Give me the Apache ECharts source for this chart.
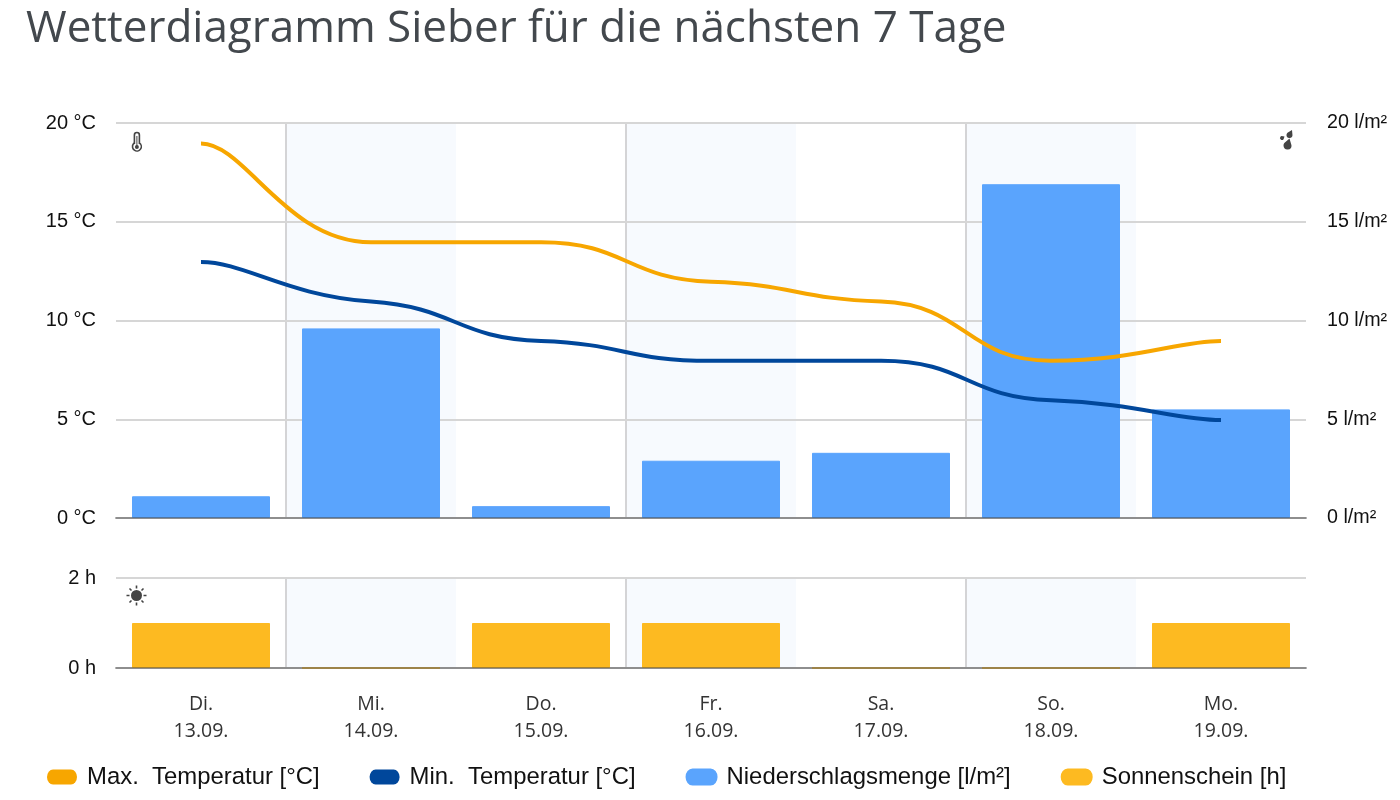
<!DOCTYPE html>
<html><head><meta charset="utf-8">
<style>html,body{margin:0;padding:0;background:#fff}#c{width:1400px;height:800px}</style>
<script src="https://cdn.jsdelivr.net/npm/echarts@6/dist/echarts.min.js"></script></head>
<body><div id="c"></div>
<script>
const days = ['Di.','Mi.','Do.','Fr.','Sa.','So.','Mo.'];
const dates = ['13.09.','14.09.','15.09.','16.09.','17.09.','18.09.','19.09.'];
const maxTemp = [19,14,14,12,11,8,9];
const minTemp = [13,11,9,8,8,6,5];
const rain = [1.1,9.6,0.6,2.9,3.3,16.9,5.5];
const sun = [1,0,1,1,0,0,1];
const names = ['Max.  Temperatur [°C]','Min.  Temperatur [°C]','Niederschlagsmenge [l/m²]','Sonnenschein [h]'];
const cats = days.map((d,i)=>d+'\n'+dates[i]);
const colors = {max:'#F7A600',min:'#00479B',rain:'#5AA4FD',sun:'#FDBA21'};
const sans = '"Liberation Sans"';
const iconInk = '#444444';
const drop = (ctx,cx,cy,r,tx,ty)=>{const a=Math.atan2(ty-cy,tx-cx);ctx.moveTo(tx,ty);ctx.arc(cx,cy,r,a+1.2,a-1.2+Math.PI*2);ctx.closePath();};
echarts.graphic.registerShape('iconThermo',echarts.graphic.extendShape({
  shape:{},buildPath(ctx){ctx.moveTo(3,11);ctx.lineTo(3,3);ctx.arc(5.5,3,2.5,Math.PI,0);ctx.lineTo(8,11);ctx.arc(5.5,14.6,4.4,-0.96,Math.PI+0.96);ctx.closePath();}
}));
echarts.graphic.registerShape('iconDrops',echarts.graphic.extendShape({
  shape:{},buildPath(ctx){drop(ctx,10,5,3,12.5,0);drop(ctx,2.5,8,2,5,6.5);drop(ctx,8,15.5,4,10,8.5);}
}));
echarts.graphic.registerShape('iconRays',echarts.graphic.extendShape({
  shape:{},buildPath(ctx){
    [[10,0,10,3],[10,17,10,20],[0,10,3,10],[17,10,20,10],[3,3,5,5],[15,15,17,17],[17,3,15,5],[5,15,3,17]].forEach(s=>{ctx.moveTo(s[0],s[1]);ctx.lineTo(s[2],s[3]);});
  }
}));
// Curve through the data points: flat ends with a short handle, damped tangents inside.
echarts.graphic.registerShape('tempCurve',echarts.graphic.extendShape({
  shape:{pts:[],slopes:[]},
  buildPath(ctx,shape){
    const p=shape.pts,m=shape.slopes,n=p.length;
    ctx.moveTo(p[0][0],p[0][1]);
    for(let i=0;i<n-1;i++){
      const dx=p[i+1][0]-p[i][0];
      const h0=i===0?0.26:0.5, h1=i===n-2?0.26:0.5;
      ctx.bezierCurveTo(p[i][0]+h0*dx,p[i][1]+m[i]*h0*dx,p[i+1][0]-h1*dx,p[i+1][1]-m[i+1]*h1*dx,p[i+1][0],p[i+1][1]);
    }
  }
}));
const tempSeries = (name,vals,color)=>({
  name,type:'custom',xAxisIndex:0,yAxisIndex:0,z:6,silent:true,
  data:vals.map((v,i)=>[i,v]),encode:{x:0,y:1},itemStyle:{color},
  renderItem(params,api){
    if(params.dataIndex!==0) return null;
    const pts=vals.map((v,i)=>api.coord([i,v]));
    const slopes=pts.map((q,i)=>{
      if(i===0||i===pts.length-1) return 0;
      const s0=(q[1]-pts[i-1][1])/(q[0]-pts[i-1][0]), s1=(pts[i+1][1]-q[1])/(pts[i+1][0]-q[0]);
      if(s0*s1<=0) return 0;
      return Math.sign(s0)*Math.min(Math.abs(s0),Math.abs(s1))*0.3;
    });
    return {type:'tempCurve',y:0.8,shape:{pts,slopes},style:{fill:'none',stroke:color,lineWidth:4}};
  }
});
const chart = echarts.init(document.getElementById('c'),null,{renderer:'canvas'});
const back = {
  type:'category',data:cats,boundaryGap:true,z:0,
  axisLine:{show:false},axisTick:{show:false},axisLabel:{show:false},
  splitArea:{show:true,areaStyle:{color:['rgba(255,255,255,0)','#F7FAFE']}},
  splitLine:{show:true,showMinLine:false,showMaxLine:false,lineStyle:{width:2,color:['#D4D4D6','rgba(0,0,0,0)']}}
};
const front = (label)=>({
  type:'category',data:cats,boundaryGap:true,z:5,position:'bottom',
  axisLine:{show:true,onZero:false,lineStyle:{color:'rgba(70,70,70,0.5)',width:2}},
  axisTick:{show:false},splitLine:{show:false},splitArea:{show:false},
  axisLabel:label?{show:true,margin:23,fontFamily:'"Open Sans"',fontSize:19.5,color:'#333',lineHeight:27,interval:0}:{show:false}
});
const yBase = {type:'value',z:1,axisLine:{show:false},axisTick:{show:false},
  splitLine:{lineStyle:{color:'#D6D6D6',width:2}},
  axisLabel:{fontFamily:sans,fontSize:20,color:'#111',margin:20,padding:[4,0,0,0]}};
chart.setOption({
  animation:false,
  title:{text:'Wetterdiagramm Sieber für die nächsten 7 Tage',left:21,top:2,
    textStyle:{fontFamily:'"Open Sans"',fontSize:44,fontWeight:'normal',color:'#43484D'}},
  legend:{left:42,top:760,itemWidth:30,itemHeight:15,itemGap:50,
    icon:'path://M6,0H24A6,7.5 0 0 1 24,15H6A6,7.5 0 0 1 6,0Z',
    data:names,selectedMode:false,
    textStyle:{fontFamily:sans,fontSize:23.9,color:'#111',padding:[0,0,0,5]}},
  grid:[{left:116,right:94,top:123,height:395},{left:116,right:94,top:578,height:90}],
  xAxis:[Object.assign({gridIndex:0},back),Object.assign({gridIndex:0},front(false)),
         Object.assign({gridIndex:1},back),Object.assign({gridIndex:1},front(true))],
  yAxis:[
    Object.assign({},yBase,{gridIndex:0,min:0,max:20,interval:5,axisLabel:Object.assign({},yBase.axisLabel,{formatter:'{value} °C'})}),
    Object.assign({},yBase,{gridIndex:0,min:0,max:20,interval:5,position:'right',splitLine:{show:false},axisLabel:Object.assign({},yBase.axisLabel,{margin:21,fontSize:19.7,formatter:'{value} l/m²'})}),
    Object.assign({},yBase,{gridIndex:1,min:0,max:2,interval:2,axisLabel:Object.assign({},yBase.axisLabel,{formatter:'{value} h'})})
  ],
  series:[
    {name:names[2],type:'bar',xAxisIndex:0,yAxisIndex:1,data:rain,barWidth:138,z:2,itemStyle:{color:colors.rain,borderColor:colors.rain,borderWidth:1}},
    {name:names[3],type:'bar',xAxisIndex:2,yAxisIndex:2,data:sun,barWidth:138,z:2,itemStyle:{color:colors.sun,borderColor:colors.sun,borderWidth:1}},
    tempSeries(names[0],maxTemp,colors.max),
    tempSeries(names[1],minTemp,colors.min)
  ],
  graphic:[
    {type:'group',left:130,top:130,children:[
      {type:'iconThermo',style:{fill:'none',stroke:iconInk,lineWidth:1.6}},
      {type:'circle',shape:{cx:5.5,cy:15,r:2},style:{fill:iconInk}},
      {type:'line',shape:{x1:5.5,y1:4,x2:5.5,y2:14},style:{stroke:iconInk,lineWidth:1}}
    ]},
    {type:'group',left:1280,top:130,children:[
      {type:'iconDrops',style:{fill:iconInk}}
    ]},
    {type:'group',left:124,top:583,children:[
      {type:'circle',shape:{cx:10,cy:10,r:5.5},style:{fill:iconInk}},
      {type:'iconRays',style:{fill:'none',stroke:iconInk,lineWidth:1.6}}
    ]}
  ]
});
</script></body></html>
